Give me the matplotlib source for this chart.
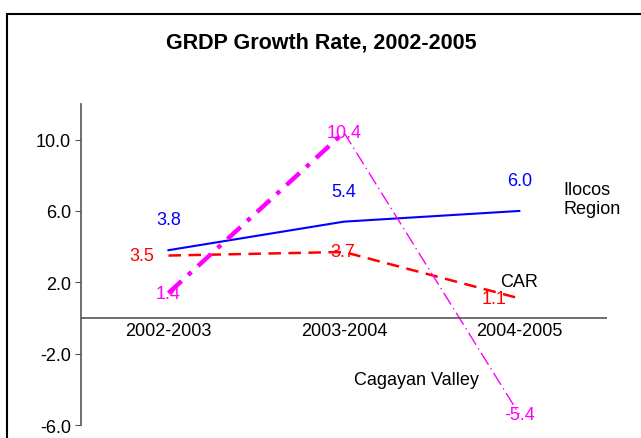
import numpy as np
import matplotlib.pyplot as plt
from matplotlib.patches import Rectangle

plt.rcParams['font.family'] = ['Liberation Sans', 'DejaVu Sans']
plt.rcParams['axes.unicode_minus'] = False

periods = ['2002-2003', '2003-2004', '2004-2005']
ilocos = [3.8, 5.4, 6.0]
car = [3.5, 3.7, 1.1]
cagayan = [1.4, 10.4, -5.4]

x = np.arange(len(periods))
fs = 13

fig = plt.figure(figsize=(6.41, 4.39), dpi=100)
ax = fig.add_axes([0.126, 0.0296, 0.821, 0.7314])

# outer frame of the chart area (bottom/right run off the picture)
fig.patches.append(Rectangle((7 / 641, -0.2), 1.2, 1.2 - 15 / 439,
                             transform=fig.transFigure, fill=False,
                             ec='black', lw=1.5))
fig.text(0.502, 1 - 43 / 439, 'GRDP Growth Rate, 2002-2005', ha='center',
         va='center', fontsize=15.5, fontweight='bold')

ax.plot(x, ilocos, color='#0000FF', lw=1.5)
ax.plot(x, car, color='#FF0000', lw=1.8, ls=(0, (5, 3)))
# Cagayan Valley: thick first segment, thin second one
ax.plot(x[:2], cagayan[:2], color='#FF00FF', lw=3.2, ls=(0, (4, 2, 1, 2)))
ax.plot(x[1:], cagayan[1:], color='#FF00FF', lw=1.0, ls=(0, (10, 3, 1, 3)))

for xi, v in zip(x, ilocos):
    ax.annotate(f'{v:.1f}', (xi, v), xytext=(0, 22), textcoords='offset points',
                ha='center', va='center', color='#0000FF', fontsize=fs)
car_off = [(-19, 0), (-1, 0), (-18, 0)]
for xi, v, off in zip(x, car, car_off):
    ax.annotate(f'{v:.1f}', (xi, v), xytext=off, textcoords='offset points',
                ha='center', va='center', color='#FF0000', fontsize=fs)
for xi, v in zip(x, cagayan):
    ax.annotate(f'{v:.1f}', (xi, v), xytext=(0, 0), textcoords='offset points',
                ha='center', va='center', color='#FF00FF', fontsize=fs)

ax.text(2.25, 6.65, 'Ilocos\nRegion', ha='left', va='center', fontsize=fs,
        linespacing=1.15)
ax.text(1.89, 2.03, 'CAR', ha='left', va='center', fontsize=fs)
ax.text(1.06, -3.44, 'Cagayan Valley', ha='left', va='center', fontsize=fs)

ax.set_xlim(-0.5, 2.5)
ax.set_ylim(-6, 12)
ax.set_yticks([-6, -2, 2, 6, 10])
ax.set_yticklabels([f'{t:.1f}' for t in [-6, -2, 2, 6, 10]], fontsize=fs)
ax.axhline(0, color='#555555', lw=1.2)
ax.set_xticks([])
for xi, p in zip(x, periods):
    ax.annotate(p, (xi, 0), xytext=(0, -9), textcoords='offset points',
                ha='center', va='center', fontsize=fs)

for s in ['top', 'right', 'bottom']:
    ax.spines[s].set_visible(False)
ax.spines['left'].set_color('#555555')
ax.spines['left'].set_linewidth(1.2)
ax.tick_params(axis='y', length=4, color='#555555', pad=3)
ax.patch.set_alpha(0)

fig.savefig('out.png', dpi=100)
